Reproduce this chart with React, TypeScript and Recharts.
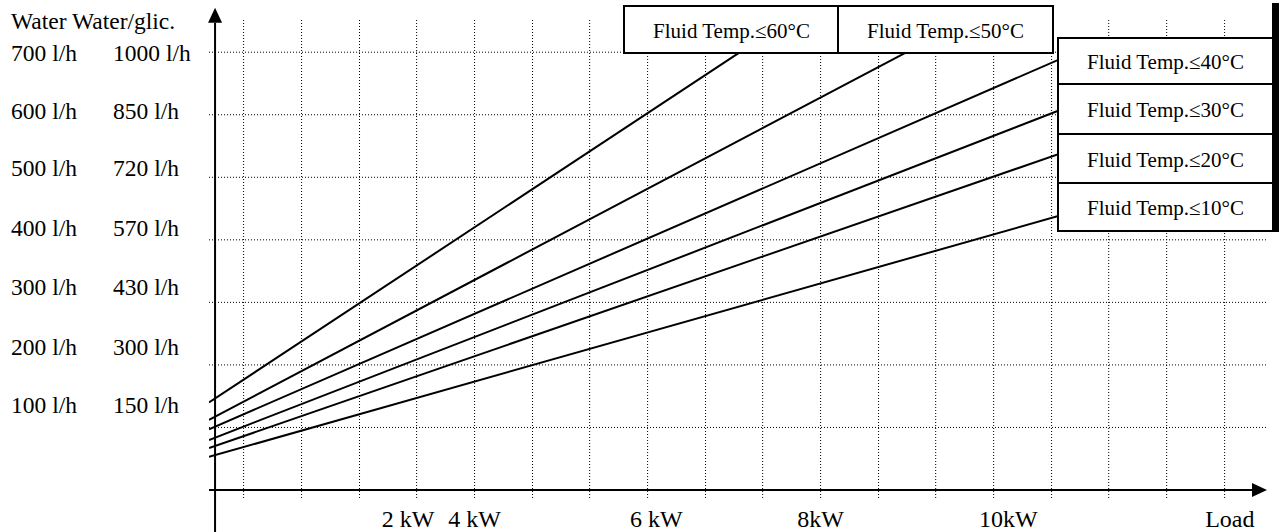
import React from "react";
import {
  LineChart,
  Line,
  XAxis,
  YAxis,
  CartesianGrid,
  ReferenceLine,
} from "recharts";

// y axis: two label columns (water / water+glycol), placed as in the drawing
const waterFlows = ["700 l/h", "600 l/h", "500 l/h", "400 l/h", "300 l/h", "200 l/h", "100 l/h"];
const glycolFlows = ["1000 l/h", "850 l/h", "720 l/h", "570 l/h", "430 l/h", "300 l/h", "150 l/h"];
const flowLabelAt = [700, 607, 516, 420, 325, 230, 136];
const flowGrid = [100, 200, 300, 400, 500, 600, 700];

// x axis (load, kW)
const loadLabels = ["2 kW", "4 kW", "6 kW", "8kW", "10kW", "Load"];
const loadLabelAt = [3.23, 4, 6.1, 8, 10.17, 12.73];
const loadGrid = [
  1.33, 2, 2.67, 3.33, 4, 4.67, 5.33, 6, 6.67, 7.33, 8, 8.67, 9.33, 10, 10.67,
  11.33, 12, 12.67,
];

// one straight line per max fluid temperature
const fluidTemps = ["60", "50", "40", "30", "20", "10"];
const lineStartLoad = [0.93, 0.93, 0.93, 0.93, 0.93, 0.93];
const lineEndLoad = [7.2, 9.5, 11, 11, 11, 11];
const lineStartFlow = [140, 112, 97, 80, 67, 53];
const lineEndFlow = [712, 737, 703, 620, 549, 448];

const series = fluidTemps.map((t, i) => ({
  name: `Fluid Temp.≤${t}°C`,
  data: [
    { load: lineStartLoad[i], flow: lineStartFlow[i] },
    { load: lineEndLoad[i], flow: lineEndFlow[i] },
  ],
}));

const FONT = '"Liberation Serif", "Times New Roman", serif';

function FlowTick(props: any) {
  const { y, index } = props;
  return (
    <g fontFamily={FONT} fontSize={23.5} fill="#000">
      <text x={11} y={y} dy="0.36em">
        {waterFlows[index]}
      </text>
      <text x={113} y={y} dy="0.36em">
        {glycolFlows[index]}
      </text>
    </g>
  );
}

function LoadTick(props: any) {
  const { x, y, index } = props;
  return (
    <text
      x={x}
      y={y + 27}
      textAnchor="middle"
      fontFamily={FONT}
      fontSize={24}
      fill="#000"
    >
      {loadLabels[index]}
    </text>
  );
}

// axis line with a filled arrow head at its end
function Arrow(props: any) {
  const { x1, y1, x2, y2 } = props;
  const ang = Math.atan2(y2 - y1, x2 - x1);
  const len = 15;
  const half = 7;
  const bx = x2 - len * Math.cos(ang);
  const by = y2 - len * Math.sin(ang);
  const px = -Math.sin(ang) * half;
  const py = Math.cos(ang) * half;
  return (
    <g>
      <line x1={x1} y1={y1} x2={bx} y2={by} stroke="#000" strokeWidth={2} />
      <polygon
        points={`${x2},${y2} ${bx + px},${by + py} ${bx - px},${by - py}`}
        fill="#000"
      />
    </g>
  );
}

const boxStyle: React.CSSProperties = {
  position: "absolute",
  boxSizing: "border-box",
  width: 217,
  background: "#fff",
  border: "2px solid #000",
  display: "flex",
  alignItems: "center",
  justifyContent: "center",
  fontFamily: FONT,
  fontSize: 21,
  color: "#000",
  paddingTop: 3,
};

const topBoxes = [
  { left: 623, top: 5, height: 49 },
  { left: 837, top: 5, height: 49 },
];
const sideBoxes = [
  { left: 1057, top: 37, height: 48 },
  { left: 1057, top: 83, height: 52 },
  { left: 1057, top: 133, height: 51 },
  { left: 1057, top: 182, height: 50 },
];

export default function App() {
  const boxes = [...topBoxes, ...sideBoxes];
  return (
    <div
      style={{
        position: "absolute",
        left: 0,
        top: 0,
        width: 1279,
        height: 532,
        background: "#fff",
        overflow: "hidden",
      }}
    >
      <LineChart
        width={1279}
        height={532}
        margin={{ top: 20, right: 12, left: 0, bottom: 0 }}
      >
        <CartesianGrid
          stroke="#000"
          strokeDasharray="1 2"
          horizontalValues={flowGrid}
          verticalValues={loadGrid}
        />
        <XAxis
          type="number"
          dataKey="load"
          domain={[0.93, 13.16]}
          allowDataOverflow
          ticks={loadLabelAt}
          interval={0}
          tick={<LoadTick />}
          axisLine={false}
          tickLine={false}
          tickSize={0}
          tickMargin={0}
          height={32}
        />
        <YAxis
          type="number"
          dataKey="flow"
          domain={[-16, 751.5]}
          allowDataOverflow
          ticks={flowLabelAt}
          interval={0}
          tick={<FlowTick />}
          axisLine={false}
          tickLine={false}
          width={209}
        />
        <ReferenceLine
          segment={[
            { x: 0.93, y: 0 },
            { x: 13.16, y: 0 },
          ]}
          ifOverflow="visible"
          shape={Arrow}
        />
        <ReferenceLine
          segment={[
            { x: 1, y: -70 },
            { x: 1, y: 771 },
          ]}
          ifOverflow="visible"
          shape={Arrow}
        />
        {series.map((s) => (
          <Line
            key={s.name}
            data={s.data}
            dataKey="flow"
            name={s.name}
            type="linear"
            stroke="#000"
            strokeWidth={2}
            dot={false}
            isAnimationActive={false}
          />
        ))}
      </LineChart>

      <div
        style={{
          position: "absolute",
          left: 11,
          top: 7,
          fontFamily: FONT,
          fontSize: 23.5,
          lineHeight: "28px",
          color: "#000",
          whiteSpace: "nowrap",
        }}
      >
        Water Water/glic.
      </div>

      {boxes.map((b, i) => (
        <div
          key={series[i].name}
          style={{ ...boxStyle, left: b.left, top: b.top, height: b.height }}
        >
          {series[i].name}
        </div>
      ))}
      <div
        style={{
          position: "absolute",
          left: 1272,
          top: 3,
          width: 7,
          height: 229,
          background: "#000",
        }}
      />
    </div>
  );
}
